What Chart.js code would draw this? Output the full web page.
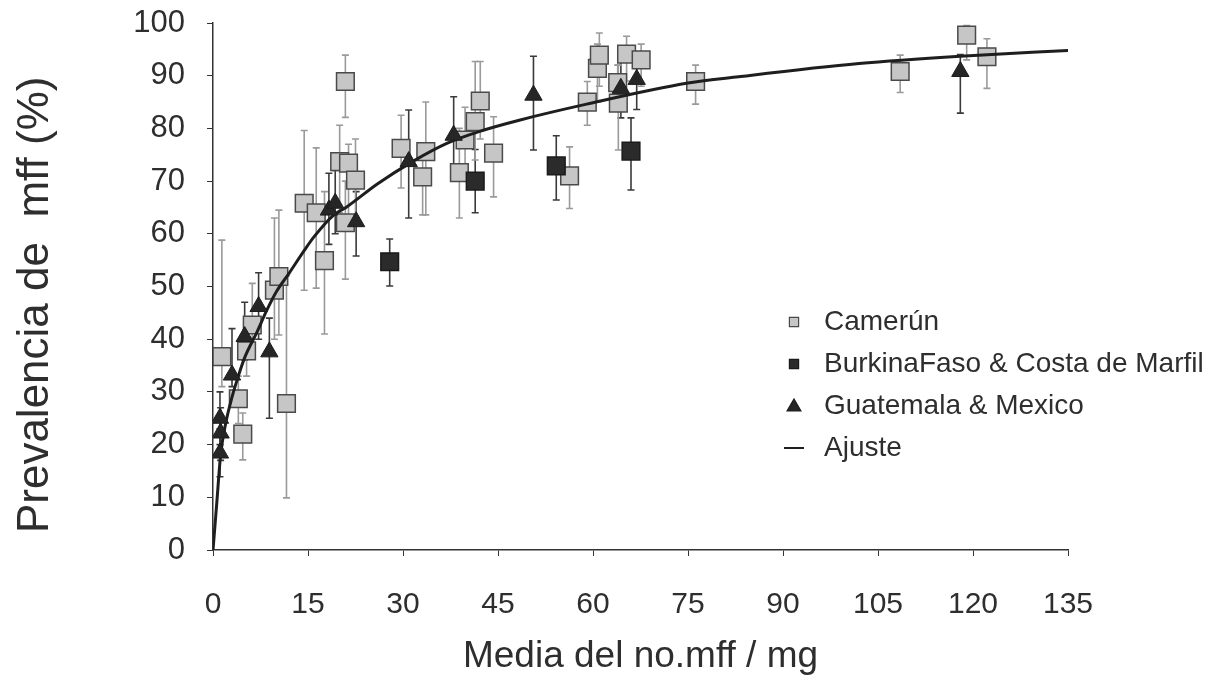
<!DOCTYPE html>
<html>
<head>
<meta charset="utf-8">
<script src="https://cdn.jsdelivr.net/npm/chart.js@4.4.1/dist/chart.umd.min.js"></script>
<style>
  html, body { margin: 0; background: #fff; }
  #wrap { width: 1232px; height: 700px; }
</style>
</head>
<body>
<div id="wrap"><canvas id="prevChart"></canvas></div>
<script>
// Camerún (cuadrados grises): media mff/mg, prevalencia y barras de error
const camX  = [1.4, 4.0, 4.7, 5.3, 6.2, 9.7, 10.4, 11.6, 14.4, 16.3, 17.6, 20.0, 20.9, 20.9, 21.4, 22.5, 29.7, 33.1, 33.6, 38.9, 39.8, 41.4, 42.2, 44.3, 56.3, 59.1, 60.7, 61.0, 63.9, 64.0, 65.3, 67.6, 76.2, 108.5, 119.0, 122.2];
const camY  = [36.7, 28.7, 22.0, 37.8, 42.7, 49.3, 51.9, 27.8, 65.8, 64.0, 54.9, 73.7, 88.9, 62.1, 73.4, 70.2, 76.2, 70.8, 75.6, 71.6, 77.8, 81.3, 85.2, 75.3, 71.0, 85.0, 91.4, 93.9, 88.7, 84.8, 94.1, 93.0, 88.9, 90.8, 97.7, 93.6];
const camLo = [31, 24, 17.1, 33, 38, 40, 40.8, 9.9, 49.3, 49.7, 41, 64, 82.1, 51.4, 62, 62, 68.7, 63.6, 63.6, 63, 70, 74, 78, 67, 64.8, 80.6, 85, 88, 84, 75.9, 89, 88, 84.6, 86.8, 93, 87.6];
const camHi = [58.8, 33, 26, 44, 50.6, 63, 64.5, 52, 79.6, 76.3, 68, 80.6, 93.9, 70, 77, 78, 82.5, 76, 85, 80, 84, 92.7, 92.7, 82.2, 76.5, 88.9, 96, 98.1, 92, 92, 97.5, 96, 92, 93.9, 99.5, 97];

// Burkina Faso & Costa de Marfil (cuadrados negros)
const bfX  = [27.9, 41.4, 54.2, 66.0];
const bfY  = [54.7, 70.0, 72.9, 75.7];
const bfLo = [50.1, 64, 66.4, 68.3];
const bfHi = [59, 76, 78.6, 82];

// Guatemala & Mexico (triangulos)
const gmX  = [1.1, 1.2, 1.1, 3.0, 5.0, 7.2, 8.9, 18.3, 19.3, 22.6, 30.9, 38.0, 50.6, 64.4, 66.9, 118.0];
const gmY  = [25.0, 22.2, 18.4, 33.2, 40.5, 46.2, 37.6, 64.5, 65.8, 62.3, 73.7, 78.7, 86.3, 87.6, 89.3, 90.8];
const gmLo = [20, 17, 13.9, 31, 36, 40, 25, 58, 60, 55.8, 63, 72, 75.9, 82, 83.6, 82.9];
const gmHi = [30, 27, 23, 42, 47, 52.6, 44, 71.5, 72, 68, 83.5, 86, 93.7, 93, 93, 94];

// curva de ajuste
const fitX = [0, 0.6, 1.2, 2, 3, 4, 5, 7, 8.5, 10, 12, 14.5, 16, 19, 21, 26, 31.5, 37, 42, 48.5, 59, 75, 83, 102, 118, 135];
const fitY = [0, 9, 18, 24, 29, 33, 36.5, 41.5, 45.5, 49, 52.5, 57, 59.5, 63.5, 65, 69.5, 73.7, 77.2, 79.4, 81.6, 84.6, 88.6, 89.8, 92.3, 93.7, 94.8];

const xTicks = [0, 15, 30, 45, 60, 75, 90, 105, 120, 135];
const yTicks = [0, 10, 20, 30, 40, 50, 60, 70, 80, 90, 100];

const toPoints = (xs, ys) => xs.map((x, i) => ({ x: x, y: ys[i] }));
const textColor = '#2e2e2e';

// barras de error verticales con remates
const errorBars = {
  id: 'errorBars',
  beforeDatasetsDraw(chart) {
    const ctx = chart.ctx;
    const xs = chart.scales.x, ys = chart.scales.y;
    chart.data.datasets.forEach((ds, d) => {
      if (!ds.errLo || !chart.isDatasetVisible(d)) return;
      ctx.save();
      ctx.strokeStyle = ds.errColor;
      ctx.lineWidth = 1.6;
      ds.data.forEach((p, i) => {
        const px = xs.getPixelForValue(p.x);
        const lo = ys.getPixelForValue(ds.errLo[i]);
        const hi = ys.getPixelForValue(ds.errHi[i]);
        ctx.beginPath();
        ctx.moveTo(px, lo); ctx.lineTo(px, hi);
        ctx.moveTo(px - 3.5, lo); ctx.lineTo(px + 3.5, lo);
        ctx.moveTo(px - 3.5, hi); ctx.lineTo(px + 3.5, hi);
        ctx.stroke();
      });
      ctx.restore();
    });
  }
};

// leyenda dentro del area de trazado
const insideLegend = {
  id: 'insideLegend',
  afterDraw(chart, args, opts) {
    const ctx = chart.ctx;
    ctx.save();
    ctx.font = opts.font;
    ctx.textBaseline = 'middle';
    opts.order.forEach((d, k) => {
      const ds = chart.data.datasets[d];
      const y = opts.top + k * opts.rowGap;
      if (ds.showLine) {
        ctx.strokeStyle = ds.borderColor;
        ctx.lineWidth = 2;
        ctx.beginPath();
        ctx.moveTo(opts.markX - 10, y); ctx.lineTo(opts.markX + 10, y);
        ctx.stroke();
      } else {
        const tri = ds.pointStyle === 'triangle';
        ctx.fillStyle = ds.backgroundColor;
        ctx.strokeStyle = ds.borderColor;
        ctx.lineWidth = 1.2;
        Chart.helpers.drawPoint(ctx, {
          pointStyle: ds.pointStyle, radius: tri ? 8 : 6.5, borderWidth: 1.2, rotation: 0
        }, opts.markX, y + (tri ? 1 : 0));
      }
      ctx.fillStyle = textColor;
      ctx.fillText(ds.label, opts.textX, y);
    });
    ctx.restore();
  }
};

new Chart(document.getElementById('prevChart'), {
  type: 'scatter',
  data: {
    datasets: [
      {
        label: 'Guatemala & Mexico',
        data: toPoints(gmX, gmY),
        errLo: gmLo, errHi: gmHi, errColor: '#3a3a3a',
        pointStyle: 'triangle', pointRadius: 10,
        backgroundColor: '#262626', borderColor: '#1c1c1c', borderWidth: 1,
        order: 0
      },
      {
        label: 'Ajuste',
        data: toPoints(fitX, fitY),
        showLine: true, pointRadius: 0,
        borderColor: '#1e1e1e', borderWidth: 3,
        cubicInterpolationMode: 'monotone',
        order: 1
      },
      {
        label: 'BurkinaFaso & Costa de Marfil',
        data: toPoints(bfX, bfY),
        errLo: bfLo, errHi: bfHi, errColor: '#3a3a3a',
        pointStyle: 'rect', pointRadius: 12.5,
        backgroundColor: '#2b2b2b', borderColor: '#1a1a1a', borderWidth: 1.5,
        order: 2
      },
      {
        label: 'Camerún',
        data: toPoints(camX, camY),
        errLo: camLo, errHi: camHi, errColor: '#9a9a9a',
        pointStyle: 'rect', pointRadius: 12.5,
        backgroundColor: '#c6c6c6', borderColor: '#4a4a4a', borderWidth: 1.5,
        order: 3
      }
    ]
  },
  options: {
    responsive: true,
    maintainAspectRatio: false,
    animation: false,
    layout: { padding: { top: 23, right: 164, bottom: 0, left: 0 } },
    plugins: {
      legend: { display: false },
      tooltip: { enabled: false },
      insideLegend: {
        order: [3, 2, 0, 1],
        top: 322, rowGap: 42, markX: 794, textX: 824,
        font: '28px "Liberation Sans", Arial, sans-serif'
      }
    },
    scales: {
      x: {
        type: 'linear', min: 0, max: 135,
        afterBuildTicks: s => { s.ticks = xTicks.map(v => ({ value: v })); },
        afterFit: s => { s.height = 150; },
        border: { display: true, color: '#333', width: 1.5 },
        grid: { drawOnChartArea: false, drawTicks: true, tickLength: 6, color: '#333' },
        ticks: { color: textColor, padding: 31, font: { family: '"Liberation Sans", Arial', size: 30 } },
        title: {
          display: true, text: 'Media del no.mff / mg', color: textColor,
          font: { family: '"Liberation Sans", Arial', size: 37 },
          padding: { top: 0, bottom: 21 }
        }
      },
      y: {
        type: 'linear', min: 0, max: 100,
        afterBuildTicks: s => { s.ticks = yTicks.map(v => ({ value: v })); },
        afterFit: s => { s.width = 213; s.paddingTop = 10; s.paddingBottom = 10; },
        border: { display: true, color: '#333', width: 1.5 },
        grid: { drawOnChartArea: false, drawTicks: true, tickLength: 6, color: '#333' },
        ticks: { color: textColor, padding: 22, font: { family: '"Liberation Sans", Arial', size: 31 } },
        title: {
          display: true, text: 'Prevalencia de  mff (%)   ', color: textColor,
          font: { family: '"Liberation Sans", Arial', size: 44 },
          padding: { top: 9, bottom: 0 }
        }
      }
    }
  },
  plugins: [errorBars, insideLegend]
});
</script>
</body>
</html>
